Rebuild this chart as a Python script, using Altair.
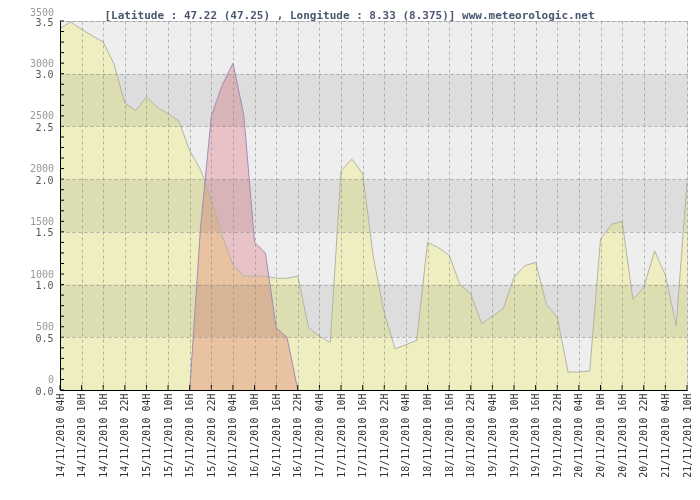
import altair as alt
import pandas as pd

# ---------------- data ----------------
# 3-hourly samples, hours after 14/11/2010 04H
hours = list(range(0, 175, 3))
yellow_m = [3430, 3490, 3420, 3360, 3300, 3090, 2720, 2650, 2780, 2680,
            2620, 2550, 2270, 2090, 1810, 1460, 1190, 1080, 1080, 1080,
            1060, 1060, 1080, 590, 510, 450, 2080, 2190, 2050, 1250,
            730, 390, 430, 470, 1400, 1350, 1280, 1000, 910, 630,
            700, 770, 1070, 1180, 1210, 810, 690, 170, 170, 180,
            1430, 1570, 1600, 860, 970, 1320, 1090, 610, 1970]

pink_hours = [36, 39, 42, 45, 48, 51, 54, 57, 60, 63, 66]
pink_m = [0, 1540, 2600, 2890, 3100, 2610, 1400, 1300, 590, 500, 0]

x_labels = [
    "14/11/2010 04H", "14/11/2010 10H", "14/11/2010 16H", "14/11/2010 22H",
    "15/11/2010 04H", "15/11/2010 10H", "15/11/2010 16H", "15/11/2010 22H",
    "16/11/2010 04H", "16/11/2010 10H", "16/11/2010 16H", "16/11/2010 22H",
    "17/11/2010 04H", "17/11/2010 10H", "17/11/2010 16H", "17/11/2010 22H",
    "18/11/2010 04H", "18/11/2010 10H", "18/11/2010 16H", "18/11/2010 22H",
    "19/11/2010 04H", "19/11/2010 10H", "19/11/2010 16H", "19/11/2010 22H",
    "20/11/2010 04H", "20/11/2010 10H", "20/11/2010 16H", "20/11/2010 22H",
    "21/11/2010 04H", "21/11/2010 10H",
]
x_tick_hours = list(range(0, 175, 6))

y_major = [0, 500, 1000, 1500, 2000, 2500, 3000, 3500]
y_minor = list(range(0, 3501, 100))
band_lo = [0, 500, 1000, 1500, 2000, 2500, 3000]
band_hi = [500, 1000, 1500, 2000, 2500, 3000, 3500]
band_col = ["#EEEEEE", "#DDDDDD", "#EEEEEE", "#DDDDDD", "#EEEEEE", "#DDDDDD", "#EEEEEE"]

title_text = "[Latitude : 47.22 (47.25) , Longitude : 8.33 (8.375)] www.meteorologic.net"

# ---------------- frames ----------------
df_y = pd.DataFrame({"h": hours, "v": yellow_m})
df_p = pd.DataFrame({"h": pink_hours, "v": pink_m})
df_b = pd.DataFrame({"lo": band_lo, "hi": band_hi, "c": band_col})
df_xt = pd.DataFrame({"h": x_tick_hours})
df_yt = pd.DataFrame({"v": y_minor})
df_yl = pd.DataFrame({"v": y_major[:-1], "t": [str(v) for v in y_major[:-1]]})
df_yl_top = pd.DataFrame({"v": y_major[-1:], "t": [str(v) for v in y_major[-1:]]})

W, H = 627, 369
MONO = "DejaVu Sans Mono"
xs = alt.Scale(domain=[0, 174], nice=False, zero=False)
ys = alt.Scale(domain=[0, 3500], nice=False)

label_js = "[" + ",".join("'" + s + "'" for s in x_labels) + "]"
x_axis = alt.Axis(values=x_tick_hours, tickCount=len(x_tick_hours),
                  labelExpr=label_js + "[round(datum.value/6)]",
                  labelAngle=270, labelFont=MONO, labelFontSize=10, labelColor="#333333",
                  tickSize=0, labelPadding=3, domainColor="#000000", domainWidth=1,
                  grid=True, gridColor="#888888", gridOpacity=0.6, gridDash=[3, 3],
                  title=None, zindex=1, labelOverlap=False, labelFlush=False)
y_axis = alt.Axis(values=y_major, tickCount=len(y_major),
                  labelExpr="format(datum.value/1000, '.1f')",
                  labelFont=MONO, labelFontSize=10, labelColor="#555555", labelOffset=1,
                  tickSize=0, labelPadding=7, domainColor="#000000", domainWidth=1,
                  grid=True, gridColor="#888888", gridOpacity=0.6, gridDash=[3, 3],
                  title=None, zindex=1, labelOverlap=False, labelFlush=False)

yellow_area = alt.Chart(df_y).mark_area(color="#FFFFCE", opacity=1).encode(
    x=alt.X("h:Q", scale=xs, axis=x_axis),
    y=alt.Y("v:Q", scale=ys, axis=y_axis),
)
pink_area = alt.Chart(df_p).mark_area(color="#FAD0D6", opacity=1, blend="multiply").encode(
    x=alt.X("h:Q", scale=xs), y=alt.Y("v:Q", scale=ys))

bands = alt.Chart(df_b).mark_rect(blend="multiply").encode(
    x=alt.value(0), x2=alt.value(W),
    y=alt.Y("lo:Q", scale=ys), y2="hi:Q",
    color=alt.Color("c:N", scale=None),
)

yellow_line = alt.Chart(df_y).mark_line(color="#B4B4A4", strokeWidth=1).encode(
    x=alt.X("h:Q", scale=xs), y=alt.Y("v:Q", scale=ys))
pink_line = alt.Chart(df_p).mark_line(color="#A08CB8", strokeWidth=1).encode(
    x=alt.X("h:Q", scale=xs), y=alt.Y("v:Q", scale=ys))

x_ticks = alt.Chart(df_xt).mark_rule(color="#000000").encode(
    x=alt.X("h:Q", scale=xs), y=alt.value(H), y2=alt.value(H - 5))
y_ticks = alt.Chart(df_yt).mark_rule(color="#000000").encode(
    y=alt.Y("v:Q", scale=ys), x=alt.value(0), x2=alt.value(4))

y_labels2 = alt.Chart(df_yl).mark_text(
    align="right", baseline="middle", dy=-10, font=MONO, fontSize=10, color="#999999"
).encode(y=alt.Y("v:Q", scale=ys), x=alt.value(-6), text="t:N")
y_labels2_top = alt.Chart(df_yl_top).mark_text(
    align="right", baseline="middle", dy=-8, font=MONO, fontSize=10, color="#999999"
).encode(y=alt.Y("v:Q", scale=ys), x=alt.value(-6), text="t:N")

chart = alt.layer(
    yellow_area, pink_area, bands, yellow_line, pink_line, x_ticks, y_ticks,
    y_labels2, y_labels2_top
).properties(
    width=W, height=H,
    title=alt.Title(title_text, font=MONO, fontSize=11, fontWeight="bold",
                    color="#4B5670", anchor="middle", dx=-24, offset=-13),
    autosize=alt.AutoSizeParams(type="none"),
    padding={"left": 52, "top": 13, "right": 5, "bottom": 100},
).configure_view(stroke=None).configure(background="white")

chart.save("out.html", embed_options={"renderer": "svg", "actions": False})
